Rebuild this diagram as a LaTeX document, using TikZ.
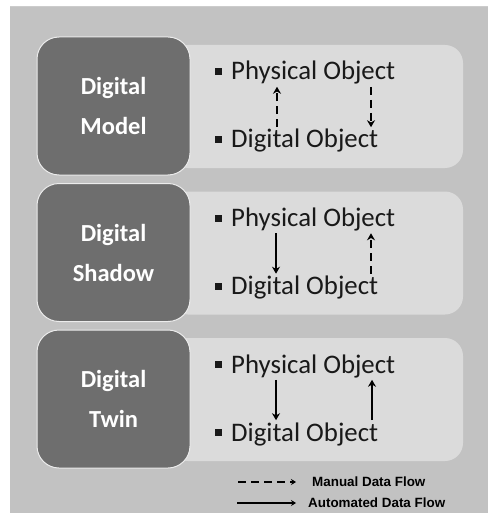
\documentclass[tikz,border=0pt]{standalone}
\usepackage{fontspec}
\setmainfont{Carlito}
\newfontfamily\legendfont{Liberation Sans}
\usetikzlibrary{arrows.meta}

\definecolor{panelgray}{gray}{0.76}
\definecolor{cardgray}{gray}{0.86}
\definecolor{tabgray}{gray}{0.43}

\tikzset{
  tab/.style = {fill=tabgray, draw=gray!15, line width=1pt, rounded corners=22pt,
    minimum width=153pt, minimum height=138pt, align=center, text=white,
    font=\fontsize{24.5}{40}\selectfont\bfseries},
  card/.style = {fill=cardgray, rounded corners=18pt, minimum width=293pt, minimum height=123pt},
  item/.style = {anchor=base west, inner sep=2pt, text=black!90, font=\fontsize{26.8}{30}\selectfont},
  autoflow/.style = {line width=2.6pt, -{Stealth[length=7pt,width=8pt]}},
  manualflow/.style = {autoflow, dash pattern=on 8pt off 5pt},
  legendtext/.style = {anchor=west, inner sep=2pt, font=\legendfont\fontsize{13.4}{15}\selectfont\bfseries},
}

\begin{document}
\begin{tikzpicture}[x=1pt, y=-1pt]
  \useasboundingbox (0,0) rectangle (488,513);
  \fill[white] (0,0) rectangle (488,513);
  \fill[panelgray] (10,7) rectangle (488,513);
  \draw[gray!40, line width=1pt] (10,7) -- (488,7);

  % three stages
  \foreach \n/\top/\word in {model/37/Model, shadow/183.5/Shadow, twin/330/Twin}
  {
    \node[card] (\n-card) at (316.5, \top+69.5) {};
    \node[tab] (\n-tab) at (113.5, \top+69) {Digital\\\word};
    \node[item] (\n-phys) at (213, \top+43) {\rule[5pt]{7pt}{7pt}\hspace{9pt}Physical Object};
    \node[item] (\n-dig) at (213, \top+111) {\rule[5pt]{7pt}{7pt}\hspace{9pt}Digital Object};
  }

  % data flows
  \draw[manualflow] ([xshift=64pt]model-dig.north west) -- ([xshift=64pt]model-phys.south west);
  \draw[manualflow] ([xshift=158pt]model-phys.south west) -- ([xshift=158pt]model-dig.north west);
  \draw[autoflow] ([xshift=63pt]shadow-phys.south west) -- ([xshift=63pt]shadow-dig.north west);
  \draw[manualflow] ([xshift=158pt]shadow-dig.north west) -- ([xshift=158pt]shadow-phys.south west);
  \draw[autoflow] ([xshift=63pt]twin-phys.south west) -- ([xshift=63pt]twin-dig.north west);
  \draw[autoflow] ([xshift=159pt]twin-dig.north west) -- ([xshift=159pt]twin-phys.south west);

  % legend
  \node[legendtext] (manual) at (310,482) {Manual Data Flow};
  \node[legendtext] (automated) at (306,503) {Automated Data Flow};
  \coordinate (manual-tail) at (238,482);
  \coordinate (automated-tail) at (237,503);
  \draw[line width=2pt, dash pattern=on 8pt off 5pt, -{Stealth[length=5pt,width=6pt]}]
    (manual-tail) -- ([xshift=-14pt]manual.west);
  \draw[line width=2pt, -{Stealth[length=5pt,width=6pt]}]
    (automated-tail) -- ([xshift=-10pt]automated.west);
\end{tikzpicture}
\end{document}
